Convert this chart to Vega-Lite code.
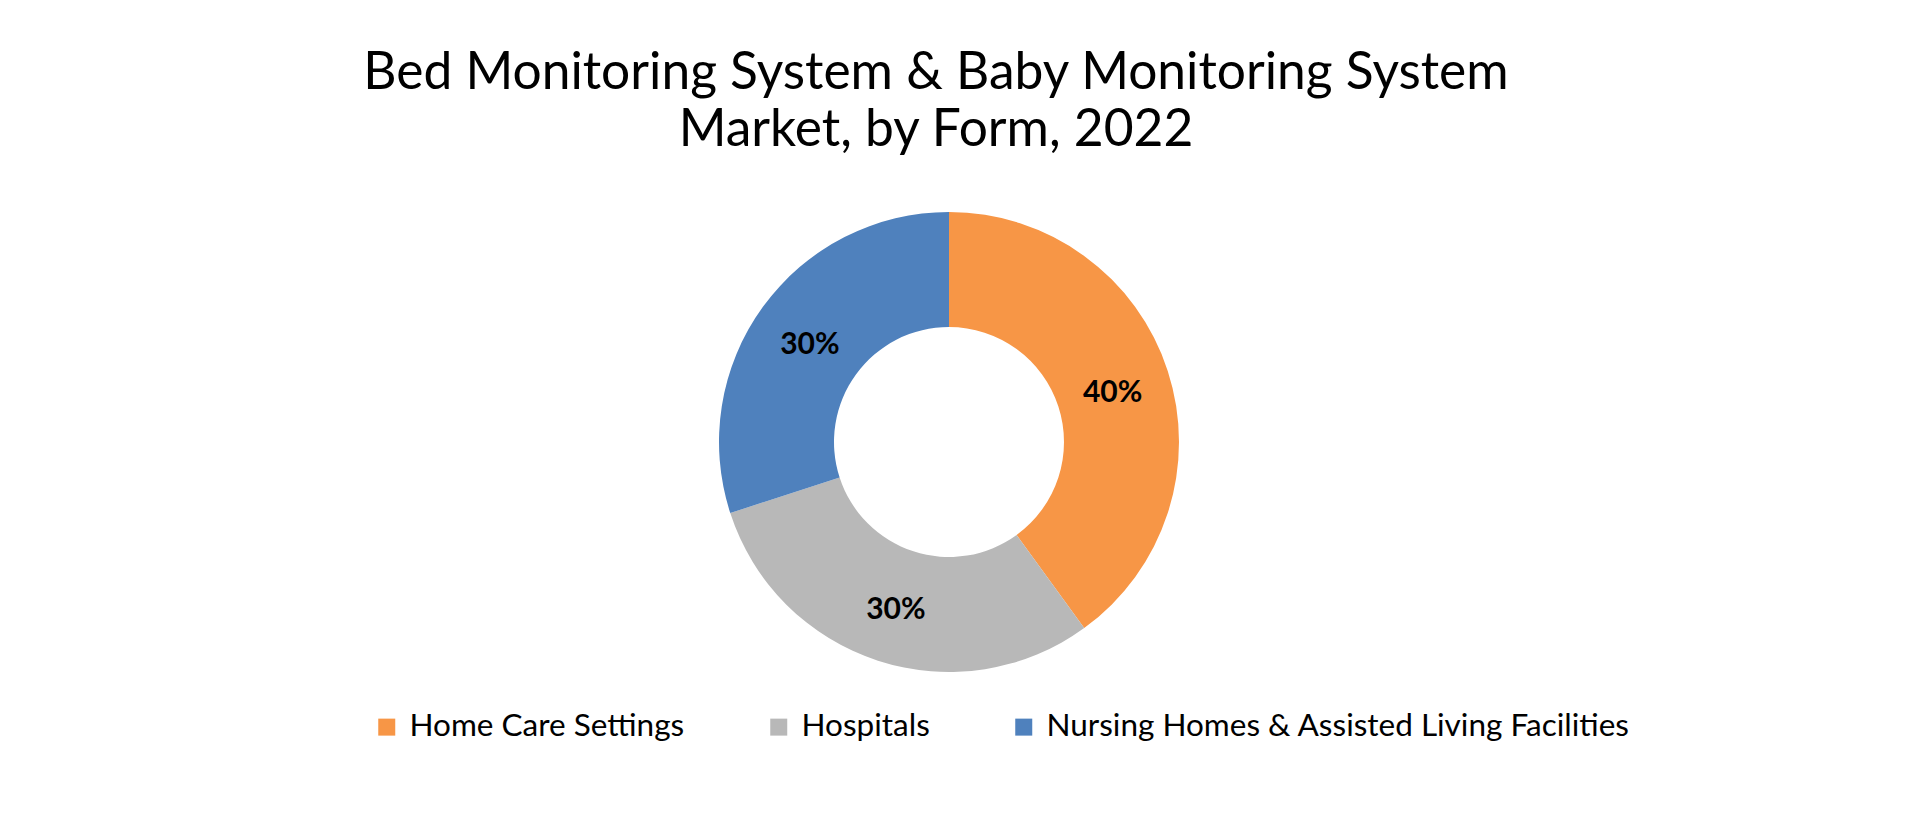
{
  "$schema": "https://vega.github.io/schema/vega-lite/v6.json",
  "width": 1898,
  "height": 474,
  "autosize": {"type": "none"},
  "padding": {"left": 0, "top": 205, "right": 22, "bottom": 139},
  "background": "white",
  "title": {
    "text": ["Bed Monitoring System & Baby Monitoring System", "Market, by Form, 2022"],
    "font": "Lato",
    "fontSize": 51.5,
    "fontWeight": "normal",
    "color": "black",
    "lineHeight": 57,
    "anchor": "middle",
    "dx": -13,
    "offset": 49
  },
  "data": {
    "values": [
      {"segment": "Home Care Settings", "share": 40, "order": 1, "label": "40%"},
      {"segment": "Hospitals", "share": 30, "order": 2, "label": "30%"},
      {"segment": "Nursing Homes & Assisted Living Facilities", "share": 30, "order": 3, "label": "30%"}
    ]
  },
  "encoding": {
    "theta": {"field": "share", "type": "quantitative", "stack": true},
    "order": {"field": "order", "type": "quantitative"}
  },
  "layer": [
    {
      "mark": {"type": "arc", "innerRadius": 115, "outerRadius": 230},
      "encoding": {
        "color": {
          "field": "segment",
          "type": "nominal",
          "sort": ["Home Care Settings", "Hospitals", "Nursing Homes & Assisted Living Facilities"],
          "scale": {
            "domain": ["Home Care Settings", "Hospitals", "Nursing Homes & Assisted Living Facilities"],
            "range": ["#F79646", "#B8B8B8", "#4F81BD"]
          },
          "legend": {
            "orient": "none",
            "legendX": 371,
            "legendY": 506,
            "direction": "horizontal",
            "title": null,
            "symbolType": "square",
            "symbolSize": 289,
            "symbolStrokeWidth": 0,
            "labelFont": "Lato",
            "labelFontSize": 31.5,
            "labelColor": "black",
            "labelOffset": 7,
            "columnPadding": 78,
            "labelLimit": 1000
          }
        }
      }
    },
    {
      "mark": {"type": "text", "radius": 172, "dy": 4, "font": "Lato", "fontWeight": "bold", "fontSize": 30, "color": "black"},
      "encoding": {"text": {"field": "label", "type": "nominal"}}
    }
  ]
}
